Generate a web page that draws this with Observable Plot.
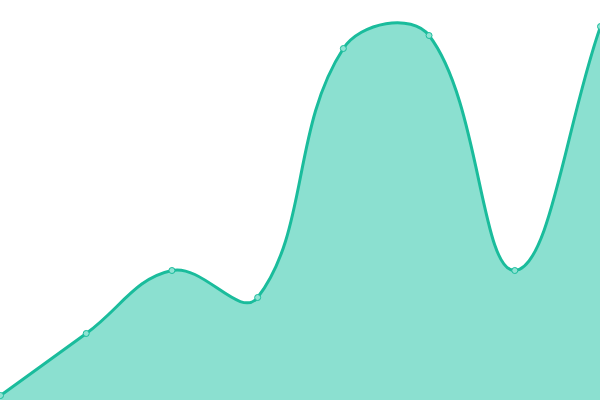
<!DOCTYPE html>
<html><head><meta charset="utf-8">
<script src="https://cdn.jsdelivr.net/npm/d3@7"></script>
<script src="https://cdn.jsdelivr.net/npm/@observablehq/plot@0.6"></script>
<style>html,body{margin:0;padding:0;background:#fff;}</style>
</head><body>
<div id="chart"></div>
<script>
const categories = [0, 1, 2, 3, 4, 5, 6, 7];
const values = [5, 67, 130, 103, 352, 365, 130, 374];
const data = categories.map((c, i) => ({x: c, y: values[i]}));

// Spline curve with distance-weighted control points (tension 0.4)
function splineCurve(tension) {
  function Curve(context) { this._context = context; }
  Curve.prototype = {
    areaStart() { this._line = 0; },
    areaEnd() { this._line = NaN; },
    lineStart() { this._x = []; this._y = []; },
    point(x, y) { this._x.push(+x); this._y.push(+y); },
    lineEnd() {
      const X = this._x, Y = this._y, n = X.length, c = this._context;
      if (n) {
        this._line ? c.lineTo(X[0], Y[0]) : c.moveTo(X[0], Y[0]);
        if (n === 2) c.lineTo(X[1], Y[1]);
        else if (n > 2) {
          const pcx = [], pcy = [], ncx = [], ncy = [];
          for (let i = 0; i < n; i++) {
            const pi = Math.max(0, i - 1), ni = Math.min(n - 1, i + 1);
            const d01 = Math.hypot(X[i] - X[pi], Y[i] - Y[pi]);
            const d12 = Math.hypot(X[ni] - X[i], Y[ni] - Y[i]);
            let s01 = d01 / (d01 + d12), s12 = d12 / (d01 + d12);
            if (!isFinite(s01)) s01 = 0;
            if (!isFinite(s12)) s12 = 0;
            const fa = tension * s01, fb = tension * s12;
            const dx = X[ni] - X[pi], dy = Y[ni] - Y[pi];
            pcx[i] = X[i] - fa * dx; pcy[i] = Y[i] - fa * dy;
            ncx[i] = X[i] + fb * dx; ncy[i] = Y[i] + fb * dy;
          }
          for (let i = 0; i < n - 1; i++) {
            c.bezierCurveTo(ncx[i], ncy[i], pcx[i + 1], pcy[i + 1], X[i + 1], Y[i + 1]);
          }
        }
      }
      if (this._line || (this._line !== 0 && n === 1)) c.closePath();
      this._line = 1 - this._line;
    }
  };
  return (context) => new Curve(context);
}
const curve = splineCurve(0.4);

const chart = Plot.plot({
  width: 600, height: 400,
  margin: 0,
  x: {domain: [0, 7], axis: null},
  y: {domain: [0, 400], axis: null},
  marks: [
    Plot.areaY(data, {x: "x", y: "y", curve, fill: "#8be0d0"}),
    Plot.lineY(data, {x: "x", y: "y", curve, stroke: "#1abc9c", strokeWidth: 3}),
    Plot.dot(data, {x: "x", y: "y", r: 3, fill: "#8fe3d3", stroke: "#1abc9c", strokeWidth: 1})
  ]
});
document.getElementById("chart").appendChild(chart);
</script>
</body></html>
